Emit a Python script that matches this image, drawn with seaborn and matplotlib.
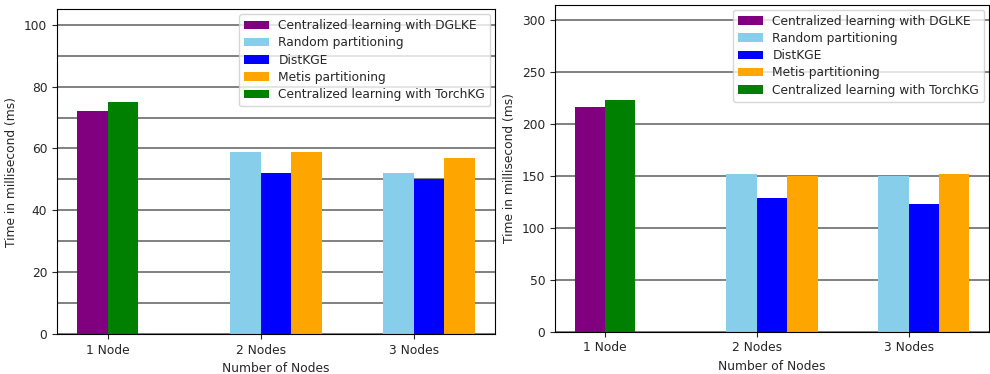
import numpy as np
import pandas as pd
import matplotlib
matplotlib.use("Agg")
import matplotlib.pyplot as plt
from matplotlib.ticker import MultipleLocator
import seaborn as sns

# categories and series
nodes = ["1 Node", "2 Nodes", "3 Nodes"]
methods = ["Centralized learning with DGLKE", "Random partitioning", "DistKGE",
           "Metis partitioning", "Centralized learning with TorchKG"]
colors = ["purple", "skyblue", "blue", "orange", "green"]

# left panel (ms), None where the method has no bar
left_dglke = [72, None, None]
left_random = [None, 59, 52]
left_distkge = [None, 52, 50]
left_metis = [None, 59, 57]
left_torchkg = [75, None, None]

# right panel (ms)
right_dglke = [217, None, None]
right_random = [None, 152, 150]
right_distkge = [None, 129, 123]
right_metis = [None, 150, 152]
right_torchkg = [223, None, None]

# bar offset from the node tick for each method
offsets = [-0.1, -0.1, 0.1, 0.3, 0.1]


def to_frame(series):
    rows = []
    for m, off, vals in zip(methods, offsets, series):
        for i, v in enumerate(vals):
            if v is not None:
                rows.append({"pos": round(i + off, 2), "time": v, "method": m})
    return pd.DataFrame(rows)


def draw(ax, df, ymax, major, minor):
    sns.barplot(data=df, x="pos", y="time", hue="method", hue_order=methods,
                palette=colors, native_scale=True, dodge=False, width=1.0,
                saturation=1, linewidth=0, errorbar=None, ax=ax, zorder=2)
    leg = ax.get_legend()
    handles = leg.legend_handles
    labels = [t.get_text() for t in leg.get_texts()]
    leg.remove()
    ax.legend(handles, labels, loc="upper right", fontsize=8.8,
              borderaxespad=0.4, labelspacing=0.35)
    ax.set_ylim(0, ymax)
    ax.yaxis.set_major_locator(MultipleLocator(major))
    ax.yaxis.set_minor_locator(MultipleLocator(minor))
    ax.tick_params(axis="y", which="minor", length=0)
    ax.grid(axis="y", which="both", color="gray", linewidth=1.4, zorder=0)
    ax.set_axisbelow(True)
    ax.set_xticks(range(len(nodes)))
    ax.set_xticklabels(nodes)
    ax.set_xlabel("Number of Nodes", fontsize=8.8)
    ax.set_ylabel("Time in millisecond (ms)", fontsize=8.8)
    ax.tick_params(labelsize=8.8)
    for s in ax.spines.values():
        s.set_visible(True)
        s.set_color("black")


sns.set_style("ticks")
plt.rcParams["font.family"] = ["DejaVu Sans"]

fig = plt.figure(figsize=(9.9, 3.74), dpi=100)
ax1 = fig.add_axes([0.0576, 0.107, 0.4424, 0.868])
ax2 = fig.add_axes([0.5606, 0.113, 0.4384, 0.874])

draw(ax1, to_frame([left_dglke, left_random, left_distkge, left_metis, left_torchkg]),
     105, 20, 10)
draw(ax2, to_frame([right_dglke, right_random, right_distkge, right_metis, right_torchkg]),
     315, 50, 50)

fig.savefig("out.png", dpi=100)
